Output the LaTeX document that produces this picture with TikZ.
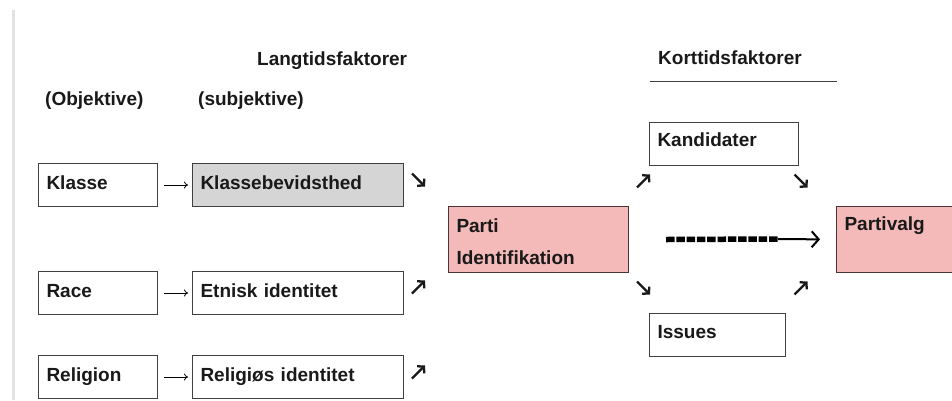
\documentclass[tikz,border=0pt]{standalone}
\usepackage{fontspec}
\setmainfont{Liberation Sans}
\usetikzlibrary{arrows.meta,positioning}
\definecolor{pinkfill}{HTML}{F4B9B9}
\definecolor{greyfill}{HTML}{D5D5D5}
\definecolor{boxline}{HTML}{404040}
\definecolor{pinkline}{HTML}{4A3434}
\definecolor{marginline}{HTML}{E2E2E2}
\tikzstyle{factor} = [draw=boxline,line width=1pt,anchor=north west,inner xsep=8pt,inner ysep=0pt,align=left,text=black!90,font=\bfseries\fontsize{19}{23}\selectfont]
\tikzstyle{party} = [factor,draw=pinkline,fill=pinkfill]
\tikzstyle{heading} = [anchor=base west,inner sep=0pt,text=black!90,font=\bfseries\fontsize{19}{23}\selectfont]
\tikzstyle{tilt} = [-{Straight Barb[length=4.5pt,width=10pt]},line width=2.3pt,black!90]
\tikzstyle{link} = [-{To[length=4pt,width=7pt]},line width=0.8pt,shorten <=6pt,shorten >=4pt]
\def \tall {26pt}
\def \deep {17pt}
\def \tu {6.5}

\begin{document}
\begin{tikzpicture}[x=1pt,y=-1pt]
  \useasboundingbox (0,0) rectangle (952,400);
  \draw[marginline,line width=3pt] (13,10) -- (13,400);

  % headings
  \node[heading] (lang) at (257,65) {Langtidsfaktorer};
  \node[heading] (obj) at (45,105) {(Objektive)};
  \node[heading] (subj) at (198,105) {(subjektive)};
  \node[heading] (kort) at (658,64) {Korttidsfaktorer};
  \draw[boxline,line width=1pt] (650,81) -- (837,81);

  % long term factors
  \node[factor,text width=103pt,text height=\tall,text depth=\deep] (klasse) at (38,163) {Klasse};
  \node[factor,fill=greyfill,text width=195pt,text height=\tall,text depth=\deep,right=34pt of klasse] (bevidst) {Klassebevidsthed};
  \node[factor,text width=103pt,text height=\tall,text depth=\deep] (race) at (38,271) {Race};
  \node[factor,text width=195pt,text height=\tall,text depth=\deep,right=34pt of race] (etnisk) {Etnisk identitet};
  \node[factor,text width=103pt,text height=\tall,text depth=\deep] (religion) at (38,355) {Religion};
  \node[factor,text width=195pt,text height=\tall,text depth=\deep,right=34pt of religion] (religios) {Religiøs identitet};
  \draw[link] (klasse) -- (bevidst);
  \draw[link] (race) -- (etnisk);
  \draw[link] (religion) -- (religios);
  \draw[tilt] (418.5,180) +(-\tu,-\tu) -- +(\tu,\tu);
  \draw[tilt] (418.5,287) +(-\tu,\tu) -- +(\tu,-\tu);
  \draw[tilt] (418.5,372) +(-\tu,\tu) -- +(\tu,-\tu);

  % party identification and short term factors
  \node[party,text width=164pt,text height=26pt,text depth=40pt] (parti) at (448,206) {Parti\\[9pt]Identifikation};
  \node[factor,text width=133pt,text height=24pt,text depth=19pt] (kand) at (649,122) {Kandidater};
  \node[factor,text width=120pt,text height=25pt,text depth=18pt] (issues) at (649,313) {Issues};
  \node[party,text width=150pt,text height=24pt,text depth=42pt] (valg) at (836,206) {Partivalg};
  \draw[tilt] (643.5,181) +(-\tu,\tu) -- +(\tu,-\tu);
  \draw[tilt] (801,181) +(-\tu,-\tu) -- +(\tu,\tu);
  \draw[tilt] (643.5,288) +(-\tu,-\tu) -- +(\tu,\tu);
  \draw[tilt] (801,288) +(-\tu,\tu) -- +(\tu,-\tu);

  \coordinate (dashend) at (778,239);
  \draw[line width=5.5pt,dash pattern=on 8.5pt off 1.8pt] ([xshift=37pt]parti.east) -- (dashend);
  \draw[-{Straight Barb[length=7pt,width=16pt]},line width=2pt,shorten >=16pt] (dashend) -- (valg.west);
\end{tikzpicture}
\end{document}
